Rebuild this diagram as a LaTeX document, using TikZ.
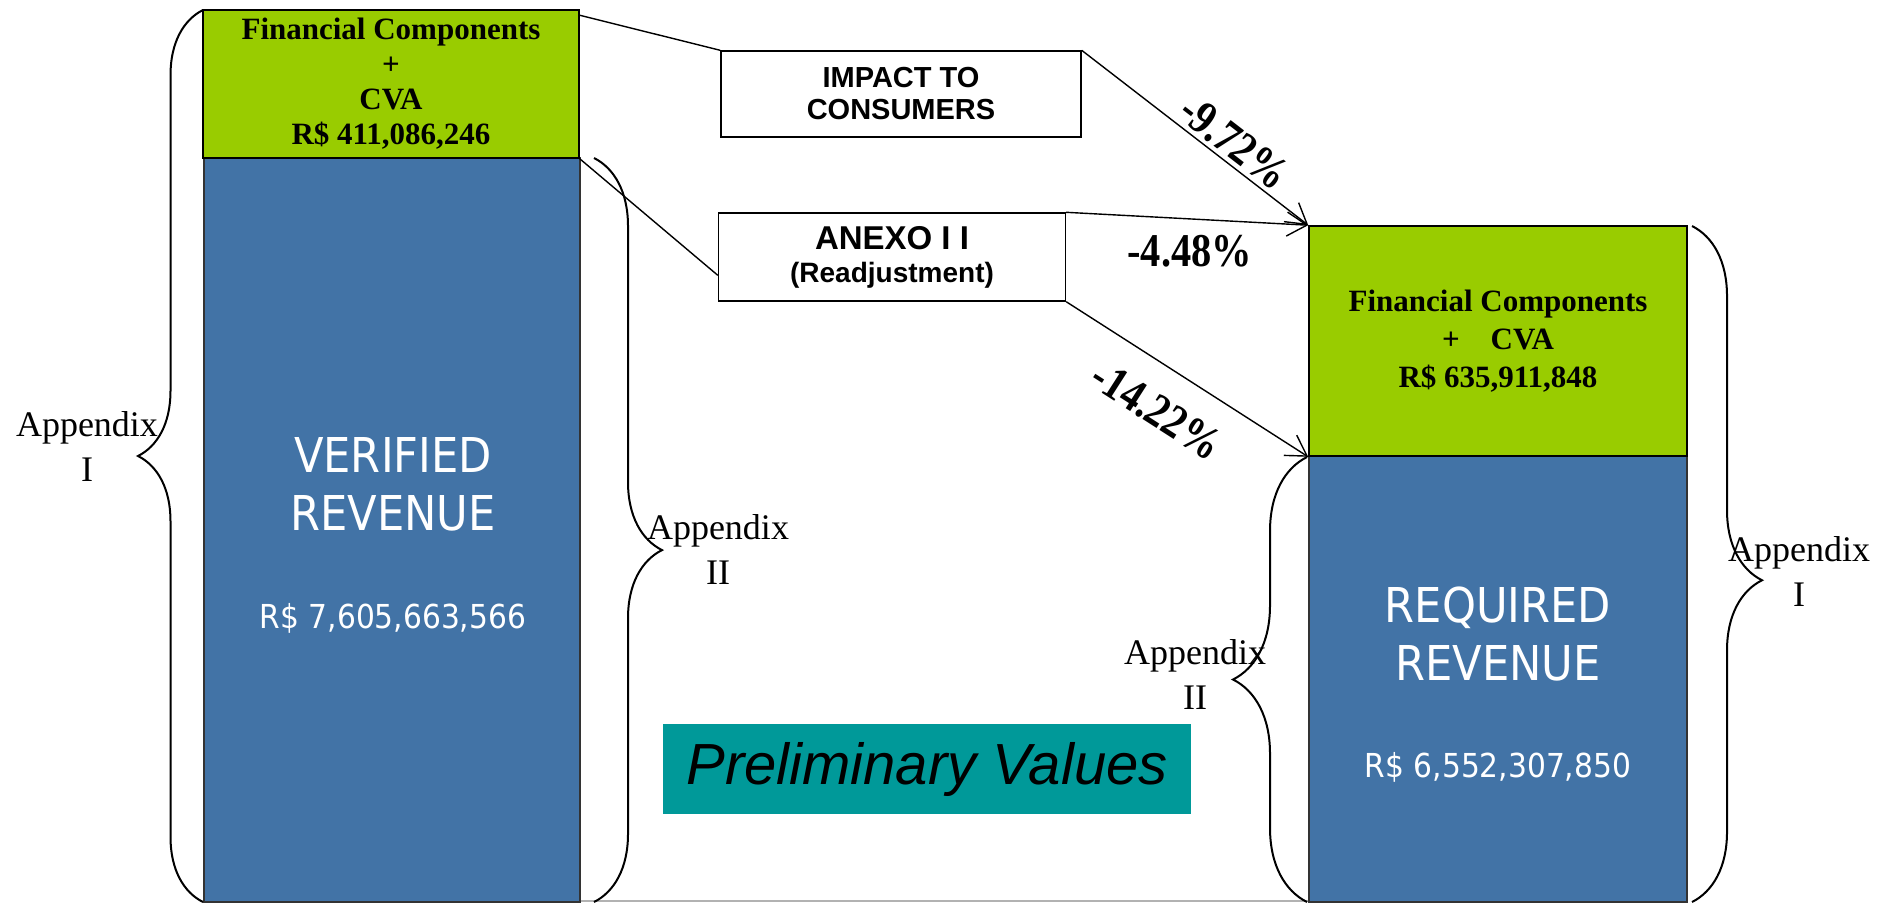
\documentclass[tikz,border=0pt]{standalone}
\usepackage{fontspec}
\setmainfont{Liberation Serif}
\setsansfont{Liberation Sans}
\newfontfamily\revfont[FakeStretch=0.9]{DejaVu Sans}
\newfontfamily\pctfont[FakeStretch=0.86]{Liberation Serif}
\usetikzlibrary{arrows.meta,decorations.pathreplacing}
\definecolor{fcgreen}{RGB}{153,204,0}
\definecolor{revblue}{RGB}{66,115,166}
\definecolor{prelimteal}{RGB}{0,153,153}
\tikzset{
  box/.style={draw=black, line width=0.8pt, inner sep=0pt},
  fcbox/.style={box, fill=fcgreen, align=center},
  revbox/.style={box, draw=black!80, line width=0.6pt, fill=revblue},
  revtext/.style={text=white, font=\revfont\fontsize{24}{29}\selectfont, align=center},
  revvalue/.style={text=white, font=\revfont\fontsize{16.5}{19}\selectfont},
  tagbox/.style={box, fill=white, line width=0.7pt, align=center},
  link/.style={line width=0.7pt},
  arrowlink/.style={link, -{Straight Barb[length=10pt,width=12pt]}},
  pct/.style={font=\pctfont\bfseries\fontsize{23.5}{26}\selectfont, inner sep=1pt},
  appbrace/.style={decorate, decoration={brace, amplitude=#1}, line width=1pt},
  applabel/.style={font=\fontsize{18}{22.5}\selectfont, align=center, inner sep=0pt}
}
\begin{document}
\begin{tikzpicture}[x=0.5pt,y=-0.5pt]
\useasboundingbox (0,0) rectangle (1877,902);

\coordinate (b1s) at (203,902);
\coordinate (b1e) at (203,10);
\coordinate (b2s) at (594,158);
\coordinate (b2e) at (594,902);
\coordinate (b3s) at (1307,902);
\coordinate (b3e) at (1307,457);
\coordinate (b4s) at (1692,226);
\coordinate (b4e) at (1692,902);

\node[revbox, minimum width=188pt, minimum height=372pt] (verB) at (392,530) {};
\node[fcbox, minimum width=188pt, minimum height=74pt,
      font=\bfseries\fontsize{15.5}{17.5}\selectfont] (finL) at (391,84)
      {Financial Components\\+\\CVA\\R\$ 411,086,246};
\node[revbox, minimum width=189pt, minimum height=223pt] (reqB) at (1498,679) {};
\node[fcbox, minimum width=189pt, minimum height=115pt,
      font=\bfseries\fontsize{15.5}{19}\selectfont] (finR) at (1498,341)
      {Financial Components\\+\quad CVA\\R\$ 635,911,848};

\node[revtext] (verT) at (393,484) {VERIFIED\\REVENUE};
\node[revvalue] (verV) at (393,618) {R\$ 7,605,663,566};
\node[revtext] (reqT) at (1498,634) {REQUIRED\\REVENUE};
\node[revvalue] (reqV) at (1498,767) {R\$ 6,552,307,850};

\node[tagbox, minimum width=180pt, minimum height=43pt,
      font=\sffamily\bfseries\fontsize{14.5}{16}\selectfont] (impact) at (901,94)
      {IMPACT TO\\CONSUMERS};
\node[tagbox, minimum width=173.5pt, minimum height=44pt,
      font=\sffamily\bfseries\fontsize{14}{16.5}\selectfont] (anexo) at (892,257)
      {{\fontsize{16.5}{16.5}\selectfont ANEXO I I}\\(Readjustment)};

\node[fill=prelimteal, minimum width=264pt, minimum height=45pt, inner sep=0pt,
      font=\sffamily\itshape\fontsize{29}{33}\selectfont] (prelim) at (927,769)
      {Preliminary Values};

\draw[link] (finL.20) -- (impact.north west);
\draw[arrowlink] (impact.north east) -- node[pct, sloped, above=1pt, pos=0.62] {-9.72\%} (finR.north west);
\draw[link] (finL.south east) -- (anexo.186);
\draw[arrowlink] (anexo.north east) -- node[pct, below=7pt, pos=0.51] {-4.48\%} (finR.north west);
\draw[arrowlink] (anexo.south east) -- node[pct, sloped, below=12pt, pos=0.47] {-14.22\%} (finR.south west);
\draw[gray!60, line width=1pt] ([yshift=1pt]verB.south east) -- ([yshift=1pt]reqB.south west);

\draw[appbrace=32.5pt] (b1s) -- (b1e);
\draw[appbrace=34pt, decoration={aspect=0.527}] (b2s) -- (b2e);
\draw[appbrace=37pt] (b3s) -- (b3e);
\draw[appbrace=35pt, decoration={aspect=0.524}] (b4s) -- (b4e);

\node[applabel] (appIL) at (87,446) {Appendix\\I};
\node[applabel] (appIIL) at (718,549) {Appendix\\II};
\node[applabel] (appIIR) at (1195,674) {Appendix\\II};
\node[applabel] (appIR) at (1799,571) {Appendix\\I};
\end{tikzpicture}
\end{document}
